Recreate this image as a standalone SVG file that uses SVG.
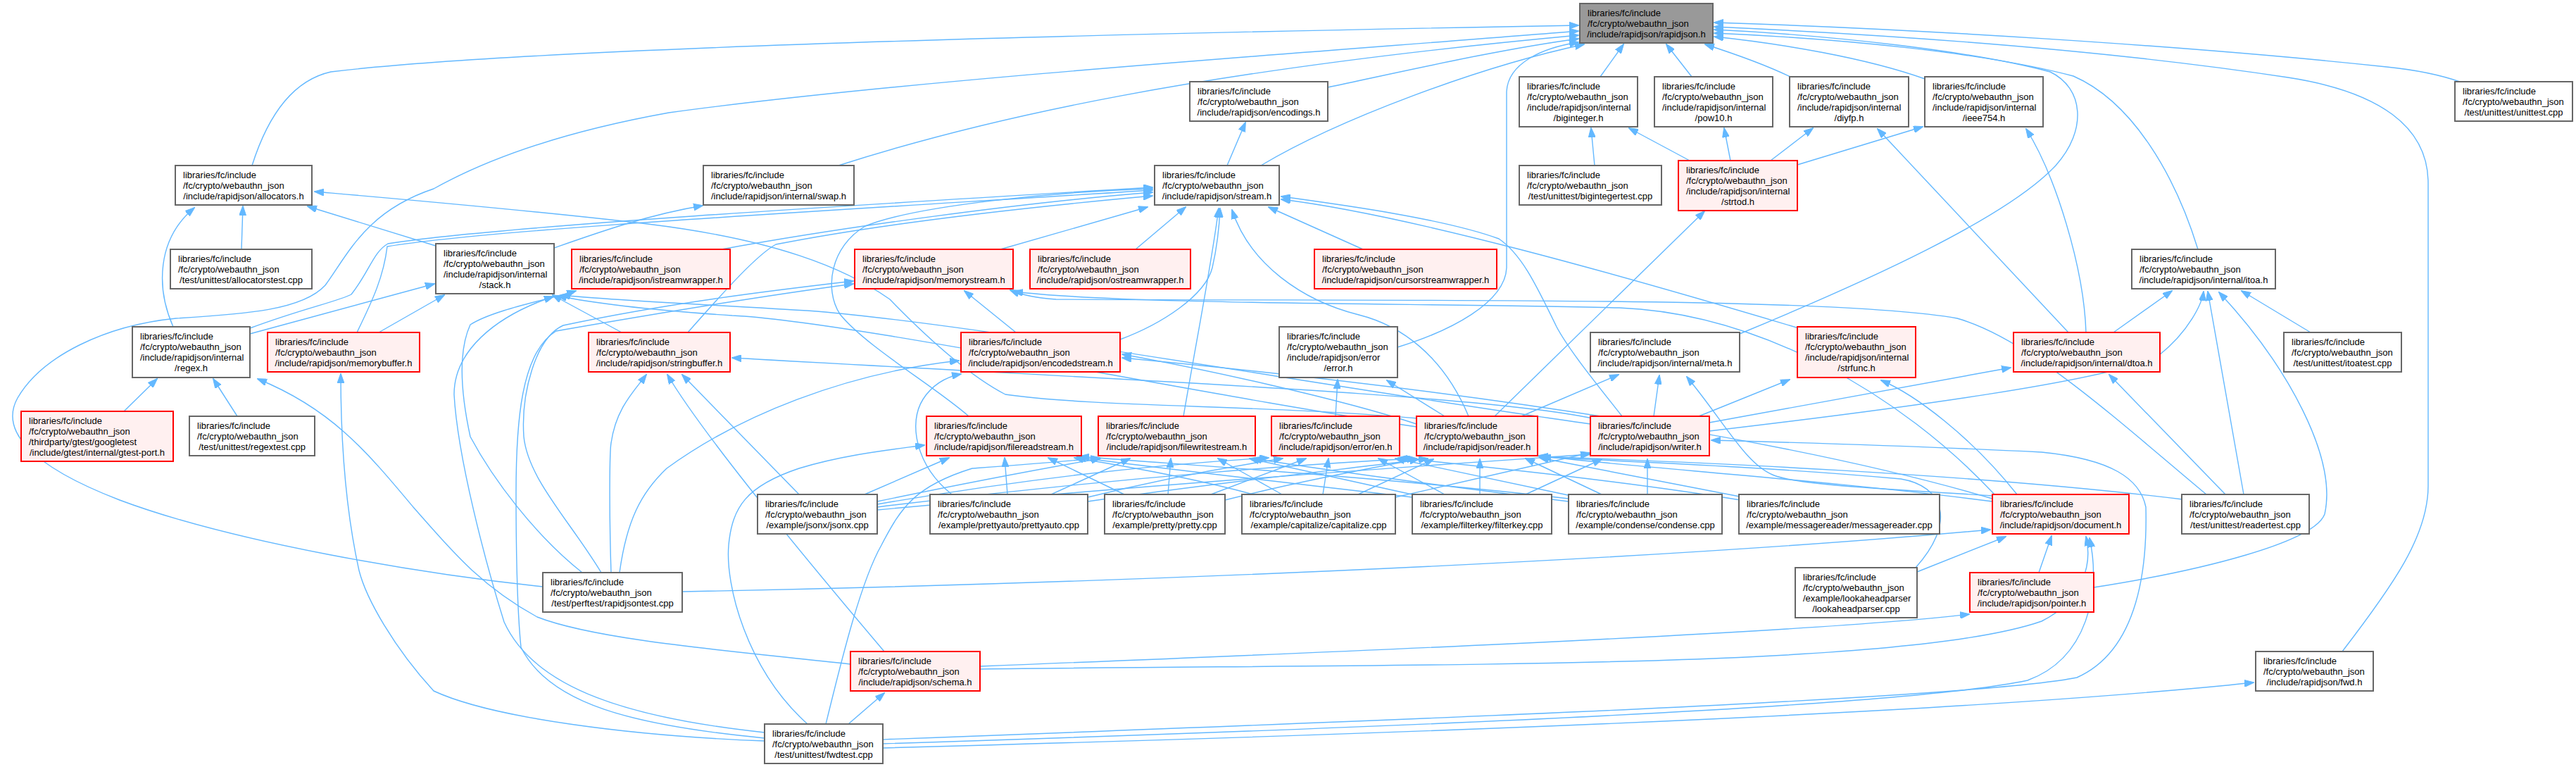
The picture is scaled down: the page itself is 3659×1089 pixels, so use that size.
<svg xmlns="http://www.w3.org/2000/svg" width="3659" height="1089" viewBox="0 0 3659 1089">
<style>
.n rect{fill:#ffffff;stroke:#666666;stroke-width:2}
.r rect{fill:#fff0f0;stroke:#ff0000;stroke-width:2}
.g rect{fill:#999999;stroke:#666666;stroke-width:2}
text{font-family:"Liberation Sans",Arial,sans-serif;font-size:13px;fill:#000000}
.m{text-anchor:middle}
#edges path{fill:none;stroke:#63b8ff;stroke-width:1.4;marker-end:url(#ah)}
</style>
<defs>
<marker id="ah" viewBox="0 0 14 10" refX="13" refY="5" markerWidth="14" markerHeight="10" markerUnits="userSpaceOnUse" orient="auto">
<path d="M0,0 L14,5 L0,10 Z" fill="#63b8ff" stroke="#63b8ff" stroke-width="1"/>
</marker>
</defs>
<rect x="0" y="0" width="3659" height="1089" fill="#ffffff"/>
<g id="edges">
<path d="M358,235 C385,150 425,112 470,102 C800,62 1900,42 2242,36"/>
<path d="M1191,235 C1400,168 1700,100 2242,50"/>
<path d="M771,833 C600,815 330,770 170,710 C40,660 0,610 25,565 C60,505 150,462 250,452 C350,446 430,440 462,405 C495,360 520,300 616,268 C720,210 850,178 950,160 C1300,112 1900,72 2242,44"/>
<path d="M1886,124 C2000,100 2130,70 2242,55"/>
<path d="M1791,235 C1900,170 2100,95 2250,63"/>
<path d="M1985,493 C2060,470 2138,430 2140,380 L2140,130 C2142,90 2190,68 2242,60"/>
<path d="M2273,109 L2306,63"/>
<path d="M2403,109 L2367,63"/>
<path d="M2545,110 C2500,88 2450,72 2422,63"/>
<path d="M2734,112 C2650,82 2530,62 2435,52"/>
<path d="M2471,474 C2650,400 2850,310 2920,235 C2965,185 2960,125 2912,102 C2800,72 2600,50 2435,42"/>
<path d="M3122,354 C3090,250 3030,145 2945,108 C2820,75 2620,55 2435,47"/>
<path d="M3497,117 C3460,104 3420,98 3390,95 C3100,64 2700,40 2435,32"/>
<path d="M3327,925 C3400,830 3449,760 3449,690 L3449,260 C3449,180 3380,130 3250,110 C3000,72 2700,50 2435,38"/>
<path d="M1743,235 L1769,174"/>
<path d="M343,354 L345,293"/>
<path d="M622,350 L437,293"/>
<path d="M246,464 C222,410 222,340 276,295"/>
<path d="M2014,594 C1800,575 1550,578 1428,560 C1370,530 1300,462 1264,425 C1200,380 1100,340 920,318 C750,298 550,281 447,272"/>
<path d="M787,352 C850,330 920,305 998,292"/>
<path d="M355,474 L617,403"/>
<path d="M538,472 L631,419"/>
<path d="M883,472 L785,419"/>
<path d="M1086,1040 C900,1020 760,980 716,883 C690,800 650,650 645,560 C645,500 700,450 786,421"/>
<path d="M2012,606 C1700,560 1200,455 1040,448 C920,440 840,430 792,420"/>
<path d="M2259,602 C1900,552 1400,462 1160,442 C1000,432 860,426 797,419"/>
<path d="M176,584 L223,538"/>
<path d="M337,591 L303,538"/>
<path d="M1208,943 C1050,925 850,910 763,876 C680,830 640,780 587,720 C520,640 470,580 366,538"/>
<path d="M355,466 C430,438 480,428 499,418 C525,385 530,358 551,346 C700,322 1200,292 1637,266"/>
<path d="M507,472 C530,425 545,392 550,350 C700,325 1200,298 1637,270"/>
<path d="M1025,354 C1200,322 1450,288 1637,273"/>
<path d="M977,472 C1030,412 1075,362 1102,347 C1250,318 1450,295 1637,278"/>
<path d="M1421,354 L1630,294"/>
<path d="M1613,354 L1684,294"/>
<path d="M1936,354 L1802,294"/>
<path d="M1591,482 C1650,460 1712,420 1722,380 C1730,345 1732,320 1733,296"/>
<path d="M1681,591 C1700,480 1720,380 1731,296"/>
<path d="M1376,591 C1330,550 1230,492 1193,446 C1170,410 1180,350 1229,321 C1300,292 1500,272 1637,268"/>
<path d="M2086,591 C2050,505 1990,462 1930,447 C1850,427 1775,375 1750,298"/>
<path d="M2304,591 C2280,560 2230,500 2211,464 C2180,400 2160,360 2129,339 C2050,310 1900,290 1820,279"/>
<path d="M2555,466 C2300,390 2000,305 1820,283"/>
<path d="M2265,235 L2260,182"/>
<path d="M2400,228 L2314,182"/>
<path d="M2458,228 L2449,182"/>
<path d="M2515,228 L2575,182"/>
<path d="M2938,472 L2667,183"/>
<path d="M2553,234 L2731,180"/>
<path d="M2963,472 C2960,380 2920,250 2878,183"/>
<path d="M2123,591 L2421,300"/>
<path d="M1443,472 L1370,413"/>
<path d="M3134,702 C3000,590 2880,480 2780,452 C2600,420 2000,428 1500,425 C1470,423 1450,418 1435,412"/>
<path d="M2833,702 C2700,560 2500,445 2300,437 C2000,430 1600,433 1440,414"/>
<path d="M854,813 C810,740 750,680 744,620 C740,560 760,480 800,462 C950,430 1100,412 1212,399"/>
<path d="M1086,1048 C900,1030 780,1000 740,919 C733,850 733,750 733,700 C733,600 740,500 790,470 C950,442 1100,418 1212,403"/>
<path d="M827,813 C760,760 700,680 668,620 C655,560 650,500 668,461 C700,440 780,425 818,413"/>
<path d="M1086,1052 C900,1045 700,1020 616,981 C560,920 520,850 510,810 C490,720 484,620 484,531"/>
<path d="M868,813 C865,720 866,640 868,629 C875,580 900,556 918,532"/>
<path d="M1256,925 C1150,800 1000,620 948,532"/>
<path d="M1135,702 L969,532"/>
<path d="M2262,594 C2100,560 1600,540 1040,508"/>
<path d="M1352,702 C1300,660 1290,600 1311,567 C1325,545 1345,535 1365,531"/>
<path d="M880,813 C890,740 910,700 947,665 C1050,590 1200,530 1362,512"/>
<path d="M2012,602 C1900,565 1700,522 1594,503"/>
<path d="M2830,708 C2600,640 2200,565 1594,508"/>
<path d="M1897,591 L1900,539"/>
<path d="M2052,591 L1970,540"/>
<path d="M2161,591 L2299,532"/>
<path d="M2349,591 L2357,533"/>
<path d="M2830,704 C2700,695 2560,690 2520,675 C2480,660 2450,600 2396,535"/>
<path d="M2413,591 L2542,539"/>
<path d="M2865,702 C2800,620 2720,560 2672,540"/>
<path d="M3002,472 L3085,413"/>
<path d="M3282,472 L3184,413"/>
<path d="M2428,612 C2700,580 3000,540 3066,505 C3110,470 3128,430 3130,414"/>
<path d="M3187,702 L3136,414"/>
<path d="M2974,834 C3128,810 3287,770 3302,730 C3320,650 3250,520 3152,415"/>
<path d="M2428,600 L2856,522"/>
<path d="M3161,702 L2996,532"/>
<path d="M1228,702 L1348,650"/>
<path d="M1431,702 L1427,650"/>
<path d="M1597,702 L1489,650"/>
<path d="M1780,702 C1700,680 1600,662 1526,650"/>
<path d="M2006,706 C1800,682 1620,662 1530,649"/>
<path d="M2228,708 C1950,676 1650,658 1534,648"/>
<path d="M1147,1028 C1060,950 1030,830 1035,774 C1040,720 1060,690 1135,665 C1200,645 1270,638 1313,632"/>
<path d="M1246,712 C1400,680 1500,662 1563,651"/>
<path d="M1493,702 L1605,651"/>
<path d="M1659,702 L1663,651"/>
<path d="M1821,702 L1730,651"/>
<path d="M2010,703 L1775,651"/>
<path d="M2228,712 C2000,684 1850,662 1779,651"/>
<path d="M1173,1028 C1190,960 1220,830 1252,774 C1280,720 1300,690 1381,665 C1450,660 1520,655 1562,650"/>
<path d="M1246,716 C1500,672 1700,656 1802,650"/>
<path d="M1545,706 C1650,680 1750,662 1822,651"/>
<path d="M1720,702 L1855,651"/>
<path d="M1879,702 L1887,651"/>
<path d="M2052,702 L1958,651"/>
<path d="M2232,704 L1982,651"/>
<path d="M2472,710 C2300,682 2100,662 1986,650"/>
<path d="M1246,720 C1600,676 1900,656 2012,651"/>
<path d="M1545,712 C1750,682 1950,662 2028,651"/>
<path d="M1740,710 C1850,682 1960,662 2015,652"/>
<path d="M1929,702 L2036,652"/>
<path d="M2102,702 L2102,652"/>
<path d="M2275,702 L2167,651"/>
<path d="M2471,705 L2187,650"/>
<path d="M2721,806 C2780,740 2760,690 2700,680 C2500,662 2300,655 2190,649"/>
<path d="M3100,709 C2800,672 2400,656 2186,648"/>
<path d="M2830,712 C2600,682 2300,662 2186,647"/>
<path d="M1246,724 C1700,682 2100,656 2258,645"/>
<path d="M1982,706 L2258,643"/>
<path d="M2167,702 L2275,652"/>
<path d="M2340,702 L2340,652"/>
<path d="M1254,1050 C2000,1022 2800,992 2950,962 C3040,922 3050,800 3048,720 C3040,680 3000,652 2900,642 C2700,632 2500,627 2431,625"/>
<path d="M2896,813 L2914,761"/>
<path d="M2723,812 L2849,762"/>
<path d="M969,840 C1500,830 2300,800 2827,752"/>
<path d="M1392,950 C2000,942 2700,952 2900,882 C2960,852 2972,800 2963,762"/>
<path d="M1254,1056 C2000,1032 2700,1004 2880,966 C2965,935 2985,840 2968,764"/>
<path d="M1392,946 C2000,922 2600,896 2797,872"/>
<path d="M1205,1028 L1256,984"/>
<path d="M1254,1062 C2000,1042 2800,1012 3201,969"/>
</g>
<g id="rapidjson_h" class="g"><rect x="2244" y="5" width="189" height="56"/><text x="2255" y="23">libraries/fc/include</text><text x="2255" y="38">/fc/crypto/webauthn_json</text><text class="m" x="2338.5" y="53">/include/rapidjson/rapidjson.h</text></g>
<g id="encodings_h" class="n"><rect x="1690" y="116" width="196" height="56"/><text x="1701" y="134">libraries/fc/include</text><text x="1701" y="149">/fc/crypto/webauthn_json</text><text class="m" x="1788" y="164">/include/rapidjson/encodings.h</text></g>
<g id="biginteger_h" class="n"><rect x="2158" y="109" width="168" height="71"/><text x="2169" y="127">libraries/fc/include</text><text x="2169" y="142">/fc/crypto/webauthn_json</text><text x="2169" y="157">/include/rapidjson/internal</text><text class="m" x="2242" y="172">/biginteger.h</text></g>
<g id="pow10_h" class="n"><rect x="2350" y="109" width="168" height="71"/><text x="2361" y="127">libraries/fc/include</text><text x="2361" y="142">/fc/crypto/webauthn_json</text><text x="2361" y="157">/include/rapidjson/internal</text><text class="m" x="2434" y="172">/pow10.h</text></g>
<g id="diyfp_h" class="n"><rect x="2542" y="109" width="169" height="71"/><text x="2553" y="127">libraries/fc/include</text><text x="2553" y="142">/fc/crypto/webauthn_json</text><text x="2553" y="157">/include/rapidjson/internal</text><text class="m" x="2626.5" y="172">/diyfp.h</text></g>
<g id="ieee754_h" class="n"><rect x="2734" y="109" width="168" height="71"/><text x="2745" y="127">libraries/fc/include</text><text x="2745" y="142">/fc/crypto/webauthn_json</text><text x="2745" y="157">/include/rapidjson/internal</text><text class="m" x="2818" y="172">/ieee754.h</text></g>
<g id="unittest_cpp" class="n"><rect x="3487" y="116" width="167" height="56"/><text x="3498" y="134">libraries/fc/include</text><text x="3498" y="149">/fc/crypto/webauthn_json</text><text class="m" x="3570.5" y="164">/test/unittest/unittest.cpp</text></g>
<g id="allocators_h" class="n"><rect x="249" y="235" width="194" height="56"/><text x="260" y="253">libraries/fc/include</text><text x="260" y="268">/fc/crypto/webauthn_json</text><text class="m" x="346" y="283">/include/rapidjson/allocators.h</text></g>
<g id="swap_h" class="n"><rect x="999" y="235" width="214" height="56"/><text x="1010" y="253">libraries/fc/include</text><text x="1010" y="268">/fc/crypto/webauthn_json</text><text class="m" x="1106" y="283">/include/rapidjson/internal/swap.h</text></g>
<g id="stream_h" class="n"><rect x="1640" y="235" width="177" height="56"/><text x="1651" y="253">libraries/fc/include</text><text x="1651" y="268">/fc/crypto/webauthn_json</text><text class="m" x="1728.5" y="283">/include/rapidjson/stream.h</text></g>
<g id="bigintegertest_cpp" class="n"><rect x="2158" y="235" width="202" height="56"/><text x="2169" y="253">libraries/fc/include</text><text x="2169" y="268">/fc/crypto/webauthn_json</text><text class="m" x="2259" y="283">/test/unittest/bigintegertest.cpp</text></g>
<g id="strtod_h" class="r"><rect x="2384" y="228" width="169" height="71"/><text x="2395" y="246">libraries/fc/include</text><text x="2395" y="261">/fc/crypto/webauthn_json</text><text x="2395" y="276">/include/rapidjson/internal</text><text class="m" x="2468.5" y="291">/strtod.h</text></g>
<g id="allocatorstest_cpp" class="n"><rect x="242" y="354" width="201" height="56"/><text x="253" y="372">libraries/fc/include</text><text x="253" y="387">/fc/crypto/webauthn_json</text><text class="m" x="342.5" y="402">/test/unittest/allocatorstest.cpp</text></g>
<g id="stack_h" class="n"><rect x="619" y="346" width="168" height="71"/><text x="630" y="364">libraries/fc/include</text><text x="630" y="379">/fc/crypto/webauthn_json</text><text x="630" y="394">/include/rapidjson/internal</text><text class="m" x="703" y="409">/stack.h</text></g>
<g id="istreamwrapper_h" class="r"><rect x="812" y="354" width="225" height="56"/><text x="823" y="372">libraries/fc/include</text><text x="823" y="387">/fc/crypto/webauthn_json</text><text class="m" x="924.5" y="402">/include/rapidjson/istreamwrapper.h</text></g>
<g id="memorystream_h" class="r"><rect x="1214" y="354" width="225" height="56"/><text x="1225" y="372">libraries/fc/include</text><text x="1225" y="387">/fc/crypto/webauthn_json</text><text class="m" x="1326.5" y="402">/include/rapidjson/memorystream.h</text></g>
<g id="ostreamwrapper_h" class="r"><rect x="1463" y="354" width="228" height="56"/><text x="1474" y="372">libraries/fc/include</text><text x="1474" y="387">/fc/crypto/webauthn_json</text><text class="m" x="1577" y="402">/include/rapidjson/ostreamwrapper.h</text></g>
<g id="cursorstreamwrapper_h" class="r"><rect x="1867" y="354" width="259" height="56"/><text x="1878" y="372">libraries/fc/include</text><text x="1878" y="387">/fc/crypto/webauthn_json</text><text class="m" x="1996.5" y="402">/include/rapidjson/cursorstreamwrapper.h</text></g>
<g id="itoa_h" class="n"><rect x="3028" y="354" width="204" height="56"/><text x="3039" y="372">libraries/fc/include</text><text x="3039" y="387">/fc/crypto/webauthn_json</text><text class="m" x="3130" y="402">/include/rapidjson/internal/itoa.h</text></g>
<g id="regex_h" class="n"><rect x="188" y="464" width="167" height="72"/><text x="199" y="482">libraries/fc/include</text><text x="199" y="497">/fc/crypto/webauthn_json</text><text x="199" y="512">/include/rapidjson/internal</text><text class="m" x="271.5" y="527">/regex.h</text></g>
<g id="memorybuffer_h" class="r"><rect x="380" y="472" width="216" height="56"/><text x="391" y="490">libraries/fc/include</text><text x="391" y="505">/fc/crypto/webauthn_json</text><text class="m" x="488" y="520">/include/rapidjson/memorybuffer.h</text></g>
<g id="stringbuffer_h" class="r"><rect x="836" y="472" width="201" height="56"/><text x="847" y="490">libraries/fc/include</text><text x="847" y="505">/fc/crypto/webauthn_json</text><text class="m" x="936.5" y="520">/include/rapidjson/stringbuffer.h</text></g>
<g id="encodedstream_h" class="r"><rect x="1365" y="472" width="226" height="56"/><text x="1376" y="490">libraries/fc/include</text><text x="1376" y="505">/fc/crypto/webauthn_json</text><text class="m" x="1478" y="520">/include/rapidjson/encodedstream.h</text></g>
<g id="error_h" class="n"><rect x="1817" y="464" width="168" height="72"/><text x="1828" y="482">libraries/fc/include</text><text x="1828" y="497">/fc/crypto/webauthn_json</text><text x="1828" y="512">/include/rapidjson/error</text><text class="m" x="1901" y="527">/error.h</text></g>
<g id="meta_h" class="n"><rect x="2259" y="472" width="212" height="56"/><text x="2270" y="490">libraries/fc/include</text><text x="2270" y="505">/fc/crypto/webauthn_json</text><text class="m" x="2365" y="520">/include/rapidjson/internal/meta.h</text></g>
<g id="strfunc_h" class="r"><rect x="2553" y="464" width="168" height="72"/><text x="2564" y="482">libraries/fc/include</text><text x="2564" y="497">/fc/crypto/webauthn_json</text><text x="2564" y="512">/include/rapidjson/internal</text><text class="m" x="2637" y="527">/strfunc.h</text></g>
<g id="dtoa_h" class="r"><rect x="2860" y="472" width="208" height="56"/><text x="2871" y="490">libraries/fc/include</text><text x="2871" y="505">/fc/crypto/webauthn_json</text><text class="m" x="2964" y="520">/include/rapidjson/internal/dtoa.h</text></g>
<g id="itoatest_cpp" class="n"><rect x="3244" y="472" width="167" height="56"/><text x="3255" y="490">libraries/fc/include</text><text x="3255" y="505">/fc/crypto/webauthn_json</text><text class="m" x="3327.5" y="520">/test/unittest/itoatest.cpp</text></g>
<g id="gtest_port_h" class="r"><rect x="30" y="584" width="216" height="71"/><text x="41" y="602">libraries/fc/include</text><text x="41" y="617">/fc/crypto/webauthn_json</text><text x="41" y="632">/thirdparty/gtest/googletest</text><text class="m" x="138" y="647">/include/gtest/internal/gtest-port.h</text></g>
<g id="regextest_cpp" class="n"><rect x="269" y="591" width="178" height="56"/><text x="280" y="609">libraries/fc/include</text><text x="280" y="624">/fc/crypto/webauthn_json</text><text class="m" x="358" y="639">/test/unittest/regextest.cpp</text></g>
<g id="filereadstream_h" class="r"><rect x="1316" y="591" width="220" height="56"/><text x="1327" y="609">libraries/fc/include</text><text x="1327" y="624">/fc/crypto/webauthn_json</text><text class="m" x="1426" y="639">/include/rapidjson/filereadstream.h</text></g>
<g id="filewritestream_h" class="r"><rect x="1560" y="591" width="223" height="56"/><text x="1571" y="609">libraries/fc/include</text><text x="1571" y="624">/fc/crypto/webauthn_json</text><text class="m" x="1671.5" y="639">/include/rapidjson/filewritestream.h</text></g>
<g id="error_en_h" class="r"><rect x="1806" y="591" width="182" height="56"/><text x="1817" y="609">libraries/fc/include</text><text x="1817" y="624">/fc/crypto/webauthn_json</text><text class="m" x="1897" y="639">/include/rapidjson/error/en.h</text></g>
<g id="reader_h" class="r"><rect x="2012" y="591" width="172" height="56"/><text x="2023" y="609">libraries/fc/include</text><text x="2023" y="624">/fc/crypto/webauthn_json</text><text class="m" x="2098" y="639">/include/rapidjson/reader.h</text></g>
<g id="writer_h" class="r"><rect x="2259" y="591" width="169" height="56"/><text x="2270" y="609">libraries/fc/include</text><text x="2270" y="624">/fc/crypto/webauthn_json</text><text class="m" x="2343.5" y="639">/include/rapidjson/writer.h</text></g>
<g id="jsonx_cpp" class="n"><rect x="1076" y="702" width="170" height="56"/><text x="1087" y="720">libraries/fc/include</text><text x="1087" y="735">/fc/crypto/webauthn_json</text><text class="m" x="1161" y="750">/example/jsonx/jsonx.cpp</text></g>
<g id="prettyauto_cpp" class="n"><rect x="1321" y="702" width="224" height="56"/><text x="1332" y="720">libraries/fc/include</text><text x="1332" y="735">/fc/crypto/webauthn_json</text><text class="m" x="1433" y="750">/example/prettyauto/prettyauto.cpp</text></g>
<g id="pretty_cpp" class="n"><rect x="1569" y="702" width="171" height="56"/><text x="1580" y="720">libraries/fc/include</text><text x="1580" y="735">/fc/crypto/webauthn_json</text><text class="m" x="1654.5" y="750">/example/pretty/pretty.cpp</text></g>
<g id="capitalize_cpp" class="n"><rect x="1764" y="702" width="218" height="56"/><text x="1775" y="720">libraries/fc/include</text><text x="1775" y="735">/fc/crypto/webauthn_json</text><text class="m" x="1873" y="750">/example/capitalize/capitalize.cpp</text></g>
<g id="filterkey_cpp" class="n"><rect x="2006" y="702" width="198" height="56"/><text x="2017" y="720">libraries/fc/include</text><text x="2017" y="735">/fc/crypto/webauthn_json</text><text class="m" x="2105" y="750">/example/filterkey/filterkey.cpp</text></g>
<g id="condense_cpp" class="n"><rect x="2228" y="702" width="218" height="56"/><text x="2239" y="720">libraries/fc/include</text><text x="2239" y="735">/fc/crypto/webauthn_json</text><text class="m" x="2337" y="750">/example/condense/condense.cpp</text></g>
<g id="messagereader_cpp" class="n"><rect x="2470" y="702" width="285" height="56"/><text x="2481" y="720">libraries/fc/include</text><text x="2481" y="735">/fc/crypto/webauthn_json</text><text class="m" x="2612.5" y="750">/example/messagereader/messagereader.cpp</text></g>
<g id="document_h" class="r"><rect x="2830" y="702" width="194" height="56"/><text x="2841" y="720">libraries/fc/include</text><text x="2841" y="735">/fc/crypto/webauthn_json</text><text class="m" x="2927" y="750">/include/rapidjson/document.h</text></g>
<g id="readertest_cpp" class="n"><rect x="3099" y="702" width="181" height="56"/><text x="3110" y="720">libraries/fc/include</text><text x="3110" y="735">/fc/crypto/webauthn_json</text><text class="m" x="3189.5" y="750">/test/unittest/readertest.cpp</text></g>
<g id="rapidjsontest_cpp" class="n"><rect x="771" y="813" width="198" height="56"/><text x="782" y="831">libraries/fc/include</text><text x="782" y="846">/fc/crypto/webauthn_json</text><text class="m" x="870" y="861">/test/perftest/rapidjsontest.cpp</text></g>
<g id="lookaheadparser_cpp" class="n"><rect x="2550" y="806" width="173" height="71"/><text x="2561" y="824">libraries/fc/include</text><text x="2561" y="839">/fc/crypto/webauthn_json</text><text x="2561" y="854">/example/lookaheadparser</text><text class="m" x="2636.5" y="869">/lookaheadparser.cpp</text></g>
<g id="pointer_h" class="r"><rect x="2798" y="813" width="176" height="56"/><text x="2809" y="831">libraries/fc/include</text><text x="2809" y="846">/fc/crypto/webauthn_json</text><text class="m" x="2886" y="861">/include/rapidjson/pointer.h</text></g>
<g id="schema_h" class="r"><rect x="1208" y="925" width="184" height="56"/><text x="1219" y="943">libraries/fc/include</text><text x="1219" y="958">/fc/crypto/webauthn_json</text><text class="m" x="1300" y="973">/include/rapidjson/schema.h</text></g>
<g id="fwd_h" class="n"><rect x="3204" y="925" width="167" height="56"/><text x="3215" y="943">libraries/fc/include</text><text x="3215" y="958">/fc/crypto/webauthn_json</text><text class="m" x="3287.5" y="973">/include/rapidjson/fwd.h</text></g>
<g id="fwdtest_cpp" class="n"><rect x="1086" y="1028" width="168" height="56"/><text x="1097" y="1046">libraries/fc/include</text><text x="1097" y="1061">/fc/crypto/webauthn_json</text><text class="m" x="1170" y="1076">/test/unittest/fwdtest.cpp</text></g>
</svg>
